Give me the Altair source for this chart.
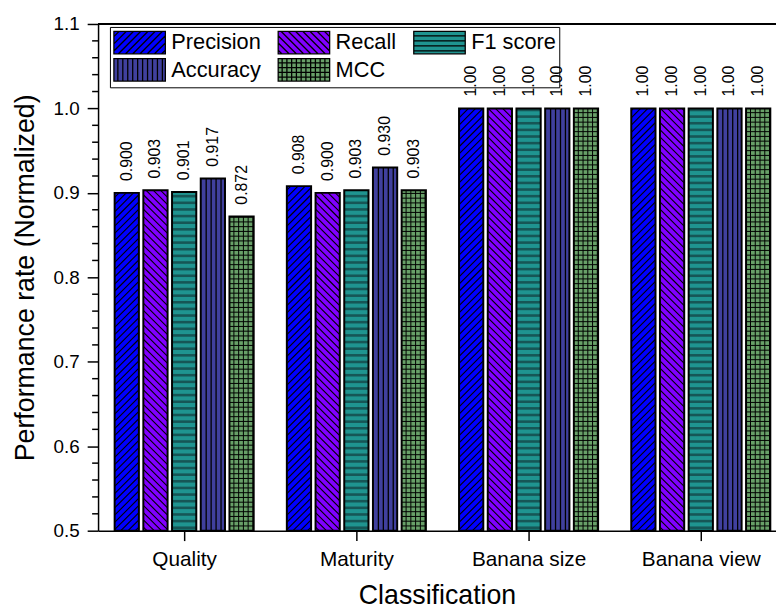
import json
import altair as alt
import pandas as pd

# ---------------- data ----------------
categories = ["Quality", "Maturity", "Banana size", "Banana view"]
metrics = ["Precision", "Recall", "F1 score", "Accuracy", "MCC"]
precision = [0.900, 0.908, 1.00, 1.00]
recall = [0.903, 0.900, 1.00, 1.00]
f1_score = [0.901, 0.903, 1.00, 1.00]
accuracy = [0.917, 0.930, 1.00, 1.00]
mcc = [0.872, 0.903, 1.00, 1.00]
label_decimals = [3, 3, 2, 2]
y_ticks = [0.5, 0.6, 0.7, 0.8, 0.9, 1.0, 1.1]

series = [precision, recall, f1_score, accuracy, mcc]
fill_colors = ["#0000FF", "#8000FF", "#1F9490", "#40409E", "#68A068"]

# ---------------- geometry ----------------
W, H = 685, 512
PX_X = 174.0                      # pixels per category
Y0, Y1 = 0.5, 1.1
PX_Y = H / (Y1 - Y0)
X_MIN = -0.5
X_MAX = X_MIN + W / PX_X
STEP = 29.0 / PX_X
BW = 24.5 / PX_X
FONT = "Liberation Sans"

# hatch styles: (kind, spacing px, start px, color, width)
patterns = [
    [("up", 7.3, 0, "black", 1.1)],
    [("down", 7.3, 0, "black", 1.1)],
    [("h", 6.7, 3.0, "#165656", 2.6)],
    [("v", 5.0, 5.5, "black", 1.3)],
    [("v", 4.8, 4.5, "black", 1.0), ("h", 4.8, 4.8, "black", 1.0)],
]


def segments(kind, wpx, hpx, s, start):
    segs = []
    if kind == "up":          # y = x + c (y up)
        c = -wpx + s / 2
        while c < hpx:
            xa, xb = max(0.0, -c), min(wpx, hpx - c)
            if xb > xa:
                segs.append((xa, xa + c, xb, xb + c))
            c += s
    elif kind == "down":      # y = -x + c
        c = s / 2
        while c < hpx + wpx:
            xa, xb = max(0.0, c - hpx), min(wpx, c)
            if xb > xa:
                segs.append((xa, c - xa, xb, c - xb))
            c += s
    elif kind == "h":
        y = start
        while y < hpx - 0.5:
            segs.append((0.0, y, wpx, y))
            y += s
    elif kind == "v":
        x = start
        while x < wpx - 0.5:
            segs.append((x, 0.0, x, hpx))
            x += s
    return segs


bar_rows, hatch_rows, label_rows = [], [], []
for i, cat in enumerate(categories):
    for j, m in enumerate(metrics):
        v = series[j][i]
        xc = i + (j - 2) * STEP
        x0, x1 = xc - BW / 2, xc + BW / 2
        bar_rows.append({"metric": m, "x0": x0, "x1": x1, "base": Y0, "v": v, "fill": fill_colors[j]})
        label_rows.append({"xc": xc, "v": v, "txt": f"{v:.{label_decimals[i]}f}"})
        wpx, hpx = BW * PX_X, (v - Y0) * PX_Y
        for kind, s, st, col, lw in patterns[j]:
            for (a, b, c, d) in segments(kind, wpx, hpx, s, st):
                hatch_rows.append({
                    "x": x0 + a / PX_X, "y": Y0 + b / PX_Y,
                    "x2": x0 + c / PX_X, "y2": Y0 + d / PX_Y,
                    "c": col, "w": lw,
                })

bars_df = pd.DataFrame(bar_rows)
hatch_df = pd.DataFrame(hatch_rows)
labels_df = pd.DataFrame(label_rows)

minor = [round(Y0 + 0.02 * k, 2) for k in range(31)]
minor = [t for t in minor if round(t * 10, 6) != round(t * 10)]
minor_df = pd.DataFrame({"t": minor})

# ---------------- legend symbols (custom paths) ----------------
LS = 23.0
K = LS / 2
SW, SH = 52.0, 22.7
LSW = 1.3                          # legend symbol stroke width
RX0, RX1 = -1.0, -1.0 + SW / K
RYT, RYB = -(SH / 2) / K, (SH / 2) / K


def rect(x0, y0, x1, y1):
    return f"M{x0:.3f},{y0:.3f}L{x1:.3f},{y0:.3f}L{x1:.3f},{y1:.3f}L{x0:.3f},{y1:.3f}Z"


RECT_PATH = rect(RX0, RYT, RX1, RYB)
# filled swatch: same rectangle, bounds padded like a stroked (mitered) symbol
E = 2 * LSW / K
FILL_PATH = RECT_PATH + f"M{RX0 - E:.3f},{RYT - E:.3f}M{RX1 + E:.3f},{RYB + E:.3f}"


def legend_path(j):
    p = RECT_PATH
    for kind, s, st, col, lw in patterns[j]:
        ss = min(s, 5.0) if kind == "h" else s
        for (a, b, c, d) in segments(kind, SW, SH, ss, min(st, 4.0)):
            X1, Y1_ = -1.0 + a / K, (SH / 2 - b) / K
            X2, Y2_ = -1.0 + c / K, (SH / 2 - d) / K
            p += f"M{X1:.3f},{Y1_:.3f}L{X2:.3f},{Y2_:.3f}"
    return p


codes = [f"m{j}" for j in range(len(metrics))]
hatch_paths = [legend_path(j) for j in range(len(metrics))]
legend_df = pd.DataFrame({"metric": metrics, "code": codes, "px": [0.0] * 5, "py": [0.3] * 5})
code_names = "{" + ",".join(f"'{c}':{json.dumps(m)}" for c, m in zip(codes, metrics)) + "}"

# ---------------- scales / axes ----------------
xs = alt.Scale(domain=[X_MIN, X_MAX], nice=False, zero=False)
ys = alt.Scale(domain=[Y0, Y1], nice=False, zero=False)

x_axis = alt.Axis(
    values=list(range(len(categories))),
    labelExpr=f"{json.dumps(categories)}[datum.value]",
    tickSize=10, tickWidth=1.5, domainWidth=1.5, grid=False,
    labelFontSize=21, labelPadding=8, labelColor="black",
    title="Classification", titleFontSize=27, titleFontWeight="normal",
    titlePadding=14, titleColor="black",
)
y_axis = alt.Axis(
    values=y_ticks, format=".1f",
    tickSize=11, tickWidth=1.5, domainWidth=1.5, grid=False,
    labelFontSize=19, labelPadding=8, labelColor="black",
    title="Performance rate (Normalized)", titleFontSize=27,
    titleFontWeight="normal", titlePadding=14, titleColor="black",
)

X = lambda f: alt.X(f, scale=xs, axis=x_axis)
Yq = lambda f: alt.Y(f, scale=ys, axis=y_axis)

bars = alt.Chart(bars_df).mark_bar(stroke=None).encode(
    x=X("x0:Q"), x2="x1", y=Yq("v:Q"), y2="base",
    color=alt.Color("fill:N", scale=None),
)

hatch = alt.Chart(hatch_df).mark_rule().encode(
    x=X("x:Q"), x2="x2", y=Yq("y:Q"), y2="y2",
    color=alt.Color("c:N", scale=None),
    strokeWidth=alt.StrokeWidth("w:Q", scale=None),
)

outline = alt.Chart(bars_df).mark_bar(fill=None, stroke="black", strokeWidth=2).encode(
    x=X("x0:Q"), x2="x1", y=Yq("v:Q"), y2="base",
)

labels = alt.Chart(labels_df).mark_text(
    angle=270, align="left", baseline="middle", yOffset=-12,
    fontSize=16, font=FONT, color="black",
).encode(x=X("xc:Q"), y=Yq("v:Q"), text="txt:N")

minor_ticks = alt.Chart(minor_df).mark_rule(color="black", strokeWidth=1.5).encode(
    y=Yq("t:Q"), x=alt.value(-6), x2=alt.value(0),
)

top_border = alt.Chart(minor_df).mark_rule(color="black", strokeWidth=1.5).encode(
    y=alt.datum(Y1), x=alt.value(0), x2=alt.value(W),
)

common_leg = dict(
    title=None, orient="none", legendX=12, legendY=3, columns=3, direction="horizontal",
    symbolSize=LS * LS, symbolStrokeWidth=LSW,
    labelFontSize=22, labelFont=FONT,
    labelOffset=SW - LS + 5, rowPadding=-1.2, columnPadding=14,
    padding=3, gridAlign="each", labelLimit=300,
)

leg_fill = alt.Legend(
    symbolType=FILL_PATH, symbolOpacity=1, labelColor="black", **common_leg,
)
leg_hatch = alt.Legend(
    labelColor="black", labelOpacity=0, strokeColor="black",
    labelExpr=f"{code_names}[datum.value]", **common_leg,
)

legend_fill_pts = alt.Chart(legend_df).mark_point(
    filled=True, clip=True, opacity=1, shape=FILL_PATH, size=LS * LS,
).encode(
    x=X("px:Q"), y=Yq("py:Q"),
    color=alt.Color("metric:N", scale=alt.Scale(domain=metrics, range=fill_colors), legend=leg_fill),
)

legend_hatch_pts = alt.Chart(legend_df).mark_point(
    filled=False, clip=True, opacity=1, color="black", strokeWidth=LSW, size=LS * LS,
).encode(
    x=X("px:Q"), y=Yq("py:Q"),
    shape=alt.Shape("code:N", scale=alt.Scale(domain=codes, range=hatch_paths), legend=leg_hatch),
)

chart = alt.layer(
    bars, hatch, outline, labels, minor_ticks, top_border, legend_fill_pts, legend_hatch_pts
).properties(
    width=W, height=H,
    autosize=alt.AutoSizeParams(type="none"),
    padding={"left": 91, "top": 13, "right": 0, "bottom": 78},
).configure(
    font=FONT,
).configure_view(
    stroke=None,
).configure_axis(
    domainColor="black", tickColor="black", labelFont=FONT, titleFont=FONT,
)

chart.save("out.html", embed_options={"renderer": "svg", "actions": False})
